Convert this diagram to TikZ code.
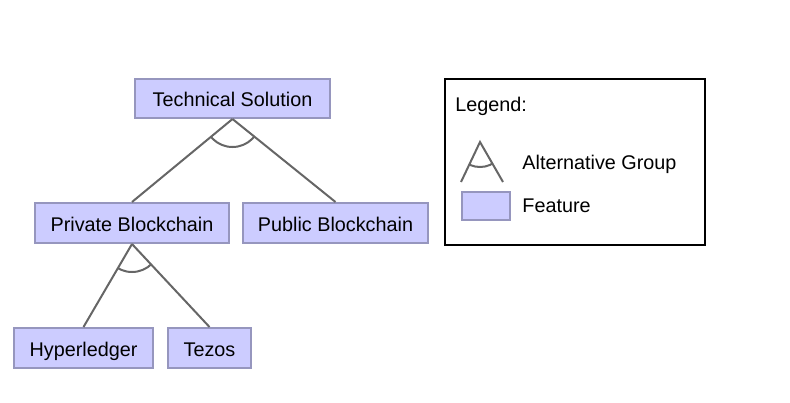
\documentclass[tikz,border=0pt]{standalone}
\usepackage{fontspec}
\setmainfont{Liberation Sans}
\definecolor{featfill}{RGB}{204, 204, 255}
\definecolor{featline}{RGB}{150, 150, 190}
\definecolor{linkgray}{RGB}{102, 102, 102}

\begin{document}
\begin{tikzpicture}[x=0.5pt, y=-0.5pt,
        every node/.style={font=\fontsize{9.9}{12}\selectfont},
        feature/.style={draw=featline, fill=featfill, line width=1pt, inner sep=0pt,
            minimum height=20pt, text height=0.8em, text depth=0pt},
        link/.style={draw=linkgray, line width=1pt}]
            \useasboundingbox (0, 0) rectangle (790, 402);

            \node[feature, minimum width=97.5pt, minimum height=19.5pt] (tech) at (232.5, 98.5) {Technical Solution};
            \node[feature, minimum width=97pt] (priv) at (132, 223) {Private Blockchain};
            \node[feature, minimum width=92.5pt] (pub) at (335.5, 223) {Public Blockchain};
            \node[feature, minimum width=69.5pt] (hyper) at (83.5, 348) {Hyperledger};
            \node[feature, minimum width=41.5pt] (tezos) at (209.5, 348) {Tezos};

            \draw[link] (tech.south) -- (priv.north);
            \draw[link] (tech.south) -- (pub.north);
            \draw[link] (priv.south) -- (hyper.north);
            \draw[link] (priv.south) -- (tezos.north);

            % alternative arcs
            \begin{scope}
                \clip (tech.south) -- (priv.north) -- (pub.north) -- cycle;
                \draw[link] (tech.south) circle (28);
            \end{scope}
            \begin{scope}
                \clip (priv.south) -- (hyper.north) -- (tezos.north) -- cycle;
                \draw[link] (priv.south) circle (28);
            \end{scope}

            % legend
            \node[draw, line width=1.2pt, minimum width=130pt, minimum height=83pt, inner sep=0pt] (legend) at (575, 162) {};
            \node[anchor=base west, inner sep=0pt] (legendtitle) at (455, 111) {Legend:};

            \coordinate (g) at (480, 142);
            \coordinate (gl) at (461, 182);
            \coordinate (gr) at (503, 182);
            \draw[link] (gl) -- (g) -- (gr);
            \begin{scope}
                \clip (g) -- (gl) -- (gr) -- cycle;
                \draw[link] (g) circle (25);
            \end{scope}
            \node[anchor=base west, inner sep=0pt] (altlabel) at (522, 169) {Alternative Group};

            \node[feature, minimum width=24pt, minimum height=14pt] (featbox) at (486, 206) {};
            \node[anchor=base west, inner sep=0pt] (featlabel) at (522, 212) {Feature};
        \end{tikzpicture}
\end{document}
